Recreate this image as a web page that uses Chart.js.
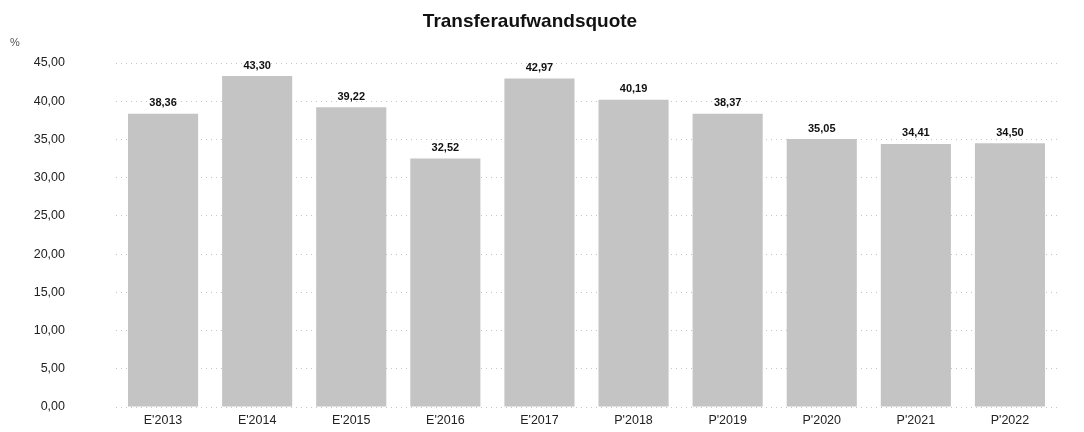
<!DOCTYPE html>
<html>
<head>
<meta charset="utf-8">
<script src="https://cdn.jsdelivr.net/npm/chart.js@4/dist/chart.umd.min.js"></script>
<style>
html,body{margin:0;padding:0;background:#fff;}
#wrap{width:1084px;height:432px;position:relative;}
</style>
</head>
<body>
<div id="wrap"><canvas id="c" width="1084" height="432"></canvas></div>
<script>
const categories = ["E'2013","E'2014","E'2015","E'2016","E'2017","P'2018","P'2019","P'2020","P'2021","P'2022"];
const values = [38.36, 43.30, 39.22, 32.52, 42.97, 40.19, 38.37, 35.05, 34.41, 34.50];
const yTicks = [0, 5, 10, 15, 20, 25, 30, 35, 40, 45];
const titleText = "Transferaufwandsquote";
const unitText = "%";

const fmt = v => v.toFixed(2).replace('.', ',');
const FONT = "'Liberation Sans', Arial, sans-serif";

const overlay = {
  id: 'overlay',
  afterDatasetsDraw(chart) {
    const ctx = chart.ctx;
    const meta = chart.getDatasetMeta(0);
    ctx.save();
    ctx.fillStyle = '#111';
    ctx.font = "bold 11px " + FONT;
    ctx.textAlign = 'center';
    ctx.textBaseline = 'bottom';
    meta.data.forEach((bar, i) => {
      ctx.fillText(fmt(values[i]), bar.x, bar.y - 5);
    });
    ctx.restore();
  },
  afterDraw(chart) {
    const ctx = chart.ctx;
    ctx.save();
    ctx.fillStyle = '#111';
    ctx.font = "bold 19px " + FONT;
    ctx.textAlign = 'center';
    ctx.textBaseline = 'alphabetic';
    ctx.fillText(titleText, 530, 27);
    ctx.font = "11px " + FONT;
    ctx.fillStyle = '#555';
    ctx.textAlign = 'left';
    ctx.fillText(unitText, 10, 46);
    ctx.restore();
  }
};

new Chart(document.getElementById('c'), {
  type: 'bar',
  data: {
    labels: categories,
    datasets: [{
      data: values,
      backgroundColor: '#c4c4c4',
      borderWidth: 0,
      categoryPercentage: 0.745,
      barPercentage: 1.0
    }]
  },
  options: {
    responsive: false,
    animation: false,
    layout: { padding: { top: 63, right: 27, bottom: 4, left: 0 } },
    plugins: { legend: { display: false }, title: { display: false }, tooltip: { enabled: false } },
    scales: {
      x: {
        afterFit(scale) { scale.height = 21; },
        grid: { display: false, drawTicks: false },
        border: { display: false },
        ticks: { color: '#222', font: { family: FONT, size: 12.5 }, padding: 6, maxRotation: 0 }
      },
      y: {
        min: 0, max: 45,
        afterBuildTicks(scale) { scale.ticks = yTicks.map(v => ({ value: v })); },
        afterFit(scale) { scale.width = 116; },
        grid: { color: '#c4c4c4', lineWidth: 1, drawTicks: true, tickLength: 48, tickColor: 'rgba(0,0,0,0)' },
        border: { display: false, dash: [1, 4] },
        ticks: { color: '#222', font: { family: FONT, size: 12.5 }, padding: 3, callback: v => fmt(v) }
      }
    }
  },
  plugins: [overlay]
});
</script>
</body>
</html>
